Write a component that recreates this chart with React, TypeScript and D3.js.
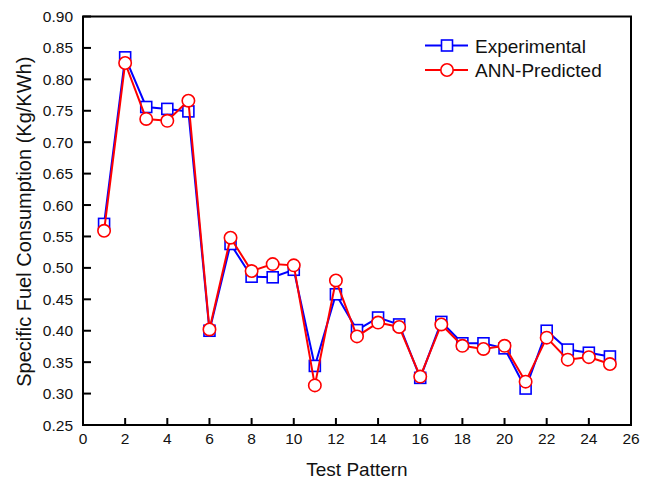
import React from "react";
import * as d3 from "d3";

const patterns = [1,2,3,4,5,6,7,8,9,10,11,12,13,14,15,16,17,18,19,20,21,22,23,24,25];
const experimental = [0.570,0.835,0.756,0.753,0.749,0.400,0.538,0.486,0.485,0.497,0.344,0.458,0.401,0.421,0.410,0.325,0.414,0.380,0.380,0.372,0.308,0.400,0.370,0.365,0.359];
const annPredicted = [0.559,0.826,0.737,0.734,0.766,0.402,0.548,0.495,0.506,0.504,0.313,0.480,0.391,0.413,0.406,0.327,0.410,0.376,0.371,0.376,0.319,0.389,0.354,0.358,0.347];
const xTicks = [0,2,4,6,8,10,12,14,16,18,20,22,24,26];
const yTicks = [0.25,0.30,0.35,0.40,0.45,0.50,0.55,0.60,0.65,0.70,0.75,0.80,0.85,0.90];
const seriesNames = ["Experimental", "ANN-Predicted"];

const W = 654, H = 482;
const left = 83, right = 631, top = 16.5, bottom = 425;
const font = "'Liberation Sans', Arial, sans-serif";

export default function App() {
  const x = d3.scaleLinear().domain([0, 26]).range([left, right]);
  const y = d3.scaleLinear().domain([0.25, 0.9]).range([bottom, top]);
  const line = d3.line<number>().x((_, i) => x(patterns[i])).y((d) => y(d));
  const blue = "#0000ff", red = "#ff0000";
  return (
    <svg width={W} height={H} style={{ position: "absolute", left: 0, top: 0, background: "#fff" }} fontFamily={font}>
      {/* ticks */}
      {xTicks.map((t) => (
        <g key={"x" + t}>
          <line x1={x(t)} x2={x(t)} y1={bottom} y2={bottom - 7} stroke="#000" strokeWidth={2} />
          <text x={x(t)} y={444} fontSize={15.5} textAnchor="middle" fill="#111">{t}</text>
        </g>
      ))}
      {yTicks.map((t) => (
        <g key={"y" + t}>
          <line x1={left} x2={left + 8} y1={y(t)} y2={y(t)} stroke="#000" strokeWidth={2} />
          <text x={73} y={y(t) + 5.5} fontSize={15.5} textAnchor="end" fill="#111">{t.toFixed(2)}</text>
        </g>
      ))}
      <rect x={left} y={top} width={right - left} height={bottom - top} fill="none" stroke="#000" strokeWidth={2} />
      {/* experimental */}
      <path d={line(experimental) || ""} fill="none" stroke={blue} strokeWidth={2} />
      {experimental.map((v, i) => (
        <rect key={"s" + i} x={x(patterns[i]) - 5.5} y={y(v) - 5.5} width={11} height={11} fill="#fff" stroke={blue} strokeWidth={1.6} />
      ))}
      {/* ANN predicted */}
      <path d={line(annPredicted) || ""} fill="none" stroke={red} strokeWidth={2} />
      {annPredicted.map((v, i) => (
        <circle key={"c" + i} cx={x(patterns[i])} cy={y(v)} r={6.2} fill="#fff" stroke={red} strokeWidth={1.6} />
      ))}
      {/* legend */}
      <line x1={425} x2={468} y1={45.5} y2={45.5} stroke={blue} strokeWidth={2} />
      <rect x={441.5} y={40} width={11} height={11} fill="#fff" stroke={blue} strokeWidth={1.6} />
      <text x={475} y={52.5} fontSize={19} fill="#111">{seriesNames[0]}</text>
      <line x1={425} x2={468} y1={70} y2={70} stroke={red} strokeWidth={2} />
      <circle cx={447} cy={70} r={6.2} fill="#fff" stroke={red} strokeWidth={1.6} />
      <text x={475} y={77} fontSize={19} fill="#111">{seriesNames[1]}</text>
      {/* axis titles */}
      <text x={357} y={476} fontSize={19} textAnchor="middle" fill="#111">Test Pattern</text>
      <text transform={`translate(31, ${(top + bottom) / 2 + 1}) rotate(-90)`} fontSize={20} textAnchor="middle" fill="#111">Specific Fuel Consumption (Kg/KWh)</text>
    </svg>
  );
}
